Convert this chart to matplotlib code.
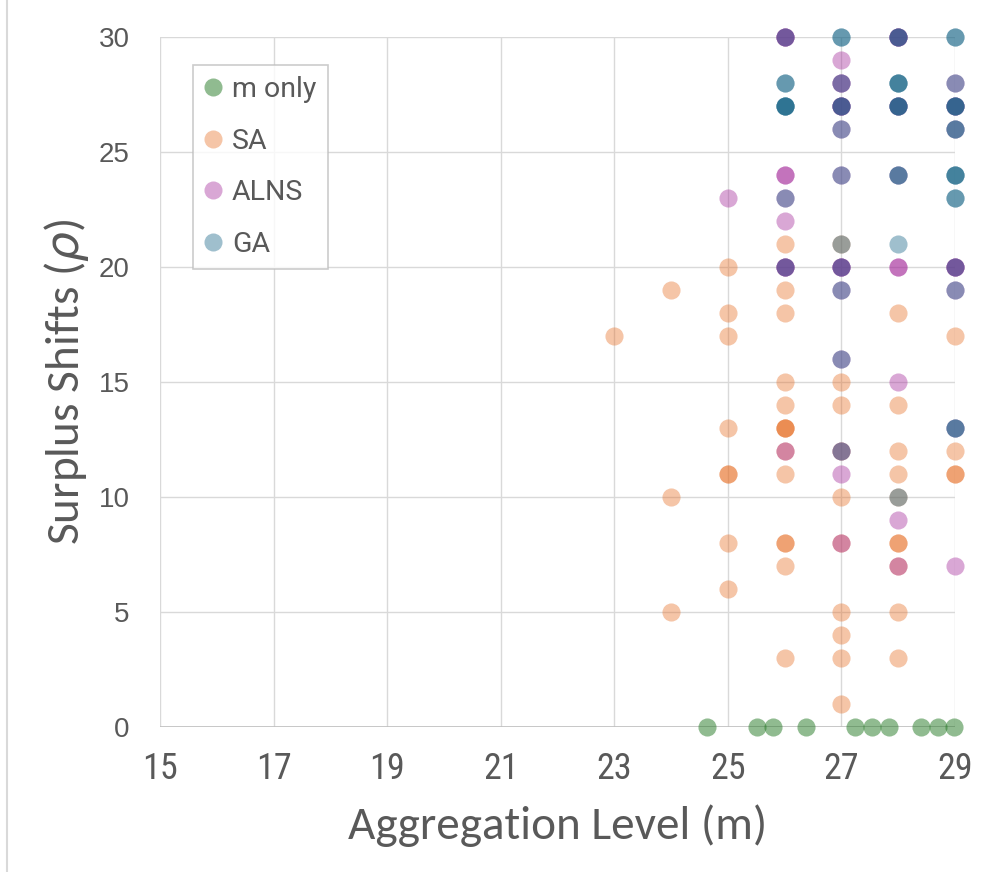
import matplotlib
matplotlib.use("Agg")
import matplotlib.pyplot as plt
from matplotlib.lines import Line2D

# ---- data ----
series_names = ["m only", "SA", "ALNS", "GA"]

m_only_x = [24.64, 25.51, 25.80, 26.38, 27.24, 27.53, 27.83, 28.40, 28.70, 28.99]
m_only_y = [0, 0, 0, 0, 0, 0, 0, 0, 0, 0]

sa_x = [23,
        24, 24, 24,
        25, 25, 25, 25, 25, 25, 25, 25,
        26, 26, 26, 26, 26, 26, 26, 26, 26, 26, 26, 26, 26, 26,
        27, 27, 27, 27, 27, 27, 27, 27, 27, 27,
        28, 28, 28, 28, 28, 28, 28, 28, 28, 28,
        29, 29, 29, 29]
sa_y = [17,
        19, 10, 5,
        20, 18, 17, 13, 11, 11, 8, 6,
        21, 19, 18, 15, 14, 13, 13, 13, 12, 11, 8, 8, 7, 3,
        21, 15, 14, 12, 10, 8, 5, 4, 3, 1,
        18, 14, 12, 11, 10, 8, 8, 7, 5, 3,
        17, 12, 11, 11]

alns_x = [25,
          26, 26, 26, 26, 26, 26, 26, 26, 26, 26, 26,
          27, 27, 27, 27, 27, 27, 27, 27, 27, 27, 27, 27, 27, 27, 27, 27,
          28, 28, 28, 28, 28, 28, 28, 28, 28, 28, 28,
          29, 29, 29, 29, 29, 29, 29, 29, 29, 29]
alns_y = [23,
          30, 30, 30, 24, 24, 23, 22, 20, 20, 20, 12,
          29, 28, 28, 27, 27, 27, 26, 24, 20, 20, 20, 19, 16, 12, 11, 8,
          30, 30, 30, 27, 27, 24, 20, 20, 15, 9, 7,
          28, 27, 27, 26, 20, 20, 20, 19, 13, 7]

ga_x = [26, 26, 26, 26, 26, 26, 26, 26, 26,
        27, 27, 27, 27, 27, 27, 27, 27, 27, 27, 27, 27,
        28, 28, 28, 28, 28, 28, 28, 28, 28, 28, 28, 28,
        29, 29, 29, 29, 29, 29, 29, 29, 29, 29, 29, 29, 29, 29, 29, 29, 29]
ga_y = [30, 28, 28, 27, 27, 27, 27, 23, 20,
        30, 30, 28, 27, 27, 26, 24, 21, 20, 19, 16, 12,
        30, 30, 28, 28, 28, 27, 27, 27, 24, 24, 21, 10,
        30, 30, 28, 27, 27, 27, 26, 26, 24, 24, 24, 23, 23, 20, 19, 13, 13]

x_ticks = [15, 17, 19, 21, 23, 25, 27, 29]
y_ticks = [0, 5, 10, 15, 20, 25, 30]

# ---- style ----
colors = ["#237823", "#E66E25", "#A22598", "#116184"]
alphas = [0.5, 0.4, 0.4, 0.4]
text_color = "#595959"
grid_color = "#D9D9D9"

fig = plt.figure(figsize=(9.84, 8.72), dpi=100)
ax = fig.add_axes([160/984, 1 - 727/872, 795/984, 690/872])

xs = [m_only_x, sa_x, alns_x, ga_x]
ys = [m_only_y, sa_y, alns_y, ga_y]
for x, y, c, a in zip(xs, ys, colors, alphas):
    ax.scatter(x, y, s=170, color=c, alpha=a, linewidths=0, clip_on=False, zorder=3)

ax.set_xlim(15, 29)
ax.set_ylim(0, 30)
ax.set_xticks(x_ticks)
ax.set_yticks(y_ticks)
for s in ax.spines.values():
    s.set_visible(False)
ax.grid(True, color=grid_color, linewidth=1.0, zorder=0)
ax.set_axisbelow(True)
ax.axhline(0, color="#BFBFBF", linewidth=1.2, zorder=1)
ax.tick_params(axis="both", length=0, colors=text_color)
ax.tick_params(axis="y", pad=22)
ax.tick_params(axis="x", pad=17)
for lab in ax.get_yticklabels():
    lab.set_fontfamily("Liberation Sans")
    lab.set_fontsize(20)
for lab in ax.get_xticklabels():
    lab.set_fontfamily("Roboto Condensed")
    lab.set_fontsize(26)

fig.text(557.5/984, 1 - 826/872, "Aggregation Level (m)", ha="center", va="center",
         fontsize=34, color=text_color, family="Carlito")
fig.text(67/984, 1 - 382/872, r"Surplus Shifts ($\rho$)", ha="center", va="center",
         rotation=90, fontsize=34, color=text_color, family="Carlito")

# figure border on the left
fig.add_artist(Line2D([7/984, 7/984], [0, 1], transform=fig.transFigure,
                      color=grid_color, linewidth=1.5))

handles = [Line2D([], [], linestyle="", marker="o", markersize=13,
                  markerfacecolor=c, markeredgewidth=0, alpha=a)
           for c, a in zip(colors, alphas)]
leg = fig.legend(handles, series_names, loc="upper left",
                 bbox_to_anchor=(193/984, 1 - 65/872), borderaxespad=0,
                 frameon=True, fancybox=False, edgecolor="#BFBFBF",
                 prop={"family": "Roboto", "size": 20.5}, labelcolor=text_color,
                 handletextpad=0.37, labelspacing=0.86, borderpad=0.4,
                 handlelength=0.6)
leg.get_frame().set_linewidth(1.2)

fig.savefig("out.png", dpi=100, facecolor="white")
